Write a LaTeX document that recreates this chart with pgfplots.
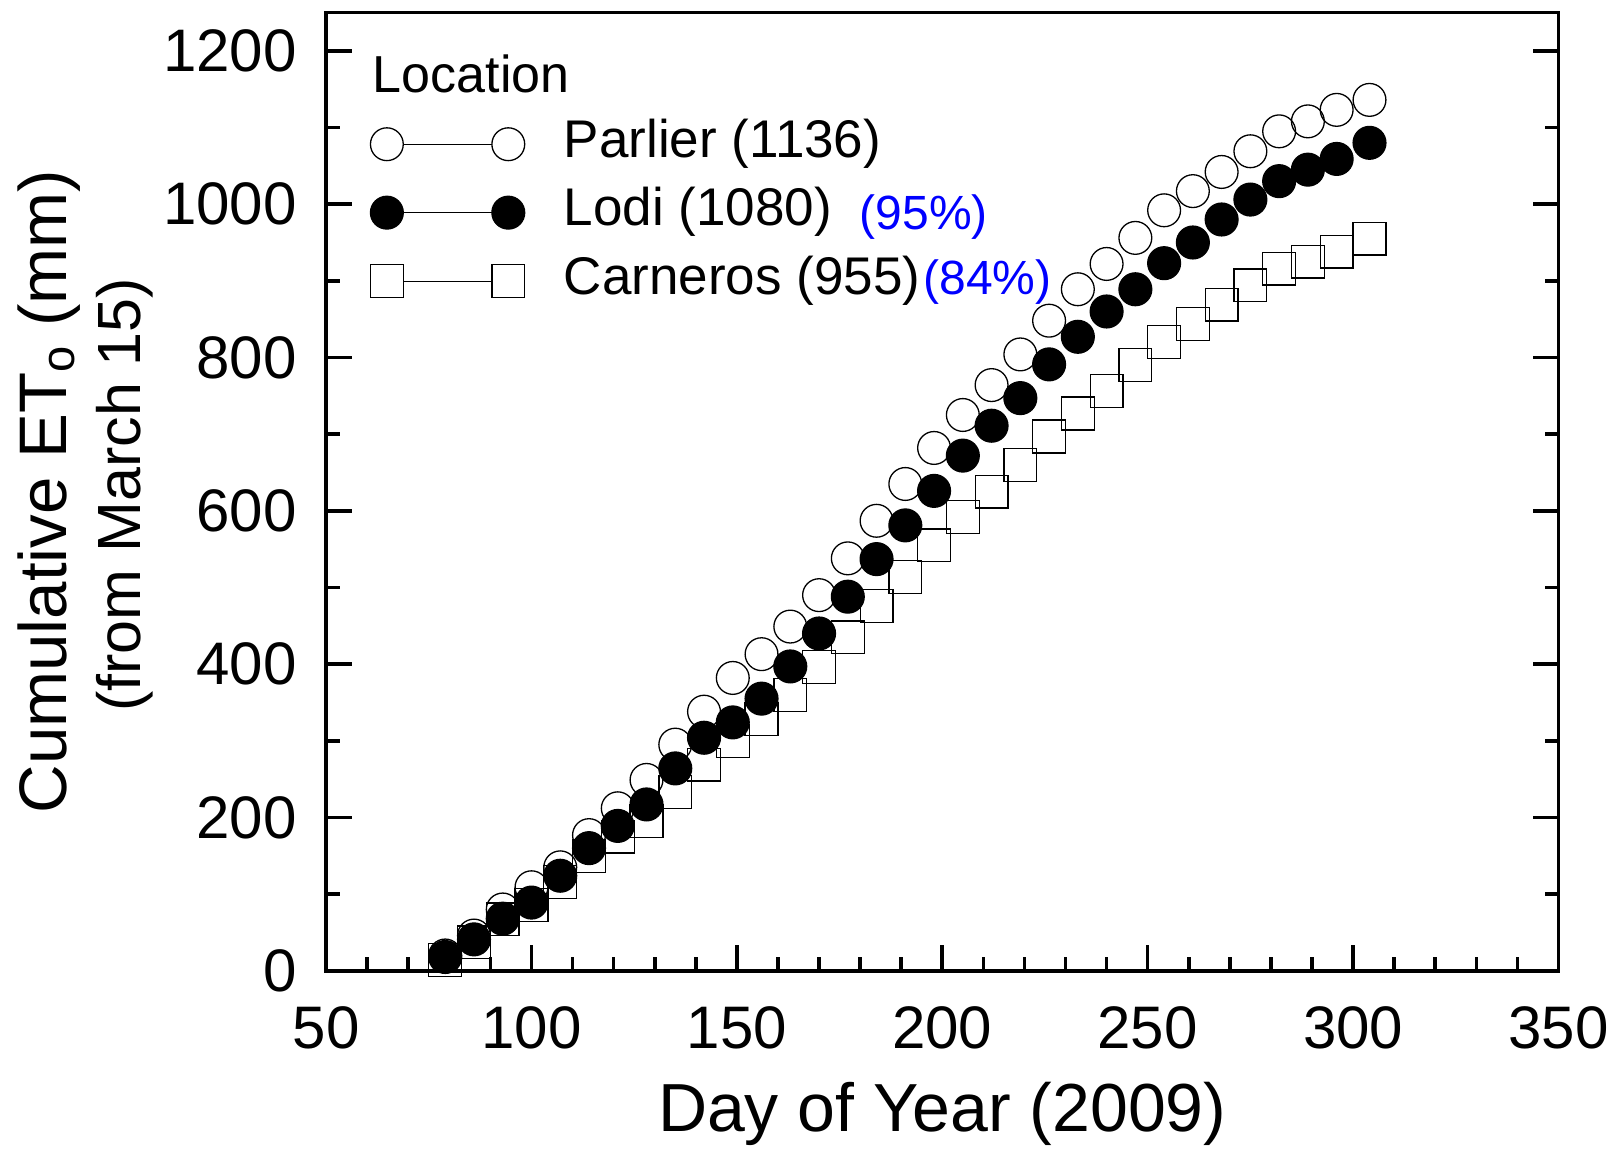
\documentclass[border=0pt]{standalone}
\usepackage{fontspec}
\setmainfont{Liberation Sans}
\usepackage{pgfplots}
\usepackage{pgfplotstable}
\pgfplotsset{compat=1.18}

% Cumulative reference ET (mm) since March 15, weekly, 2009
\pgfplotstableread{
day parlier lodi carneros
79    20    18    14
86    46    41    37
93    80    68    67
100   109   89    86
107   135   124   116
114   177   160   150
121   212   189   175
128   249   217   195
135   295   264   233
142   338   304   269
149   382   324   300
156   413   355   328
163   449   397   360
170   490   440   396
177   538   488   435
184   587   537   476
191   635   581   514
198   682   626   555
205   725   672   592
212   764   711   625
219   804   747   660
226   848   791   697
233   889   827   727
240   922   860   756
247   956   889   790
254   992   923   820
261   1017  950   844
268   1042  980   869
275   1069  1006  894
282   1095  1030  916
289   1108  1045  925
296   1123  1059  938
304   1136  1080  955
}\etdata

\begin{document}
\begin{tikzpicture}
\useasboundingbox (-163pt,-90.75pt) rectangle (643.25pt,485.25pt);
\begin{axis}[
  scale only axis, width=616pt, height=479pt,
  xmin=50, xmax=350, ymin=0, ymax=1250,
  xtick={50,100,...,350}, minor x tick num=4,
  ytick={0,200,...,1200}, minor y tick num=1,
  xtick pos=bottom, ytick pos=both, yticklabel pos=left,
  tick align=inside,
  major tick length=12.7pt, minor tick length=6.8pt,
  every tick/.style={black, line width=1.8pt},
  axis line style={line width=1.8pt},
  /pgf/number format/1000 sep={},
  /pgf/number format/assume math mode=true,
  tick label style={font=\fontsize{30}{36}\selectfont, inner sep=0pt},
  xticklabel style={anchor=north, yshift=-17.5pt},
  yticklabel style={anchor=east, xshift=-14.5pt},
  legend cell align=left,
  % symbol -- line -- symbol, the line stopping at the symbol edges
  legend image code/.code={
    \draw[black, line width=0.5pt] (8.2pt,0pt) -- (52.5pt,0pt);
    \draw[mark repeat=1] plot coordinates {(0pt,0pt) (60.7pt,0pt)};},
  legend style={at={(axis description cs:0.036,0.8877)}, anchor=north west,
    draw=none, fill=none, inner sep=0pt, outer sep=0pt,
    font=\fontsize{26.5}{31}\selectfont,
    nodes={inner sep=0pt, text height=18.6pt, text depth=5.5pt},
    row sep=10.1pt,
    /tikz/every odd column/.append style={column sep=19.6pt}},
  clip=false,
]
\addplot[black, only marks, mark=o, mark size=8.2pt,
  mark options={line width=0.65pt}]
  table[x=day, y=parlier]{\etdata};
\addlegendentry{Parlier (1136)}
\addplot[black, only marks, mark=*, mark size=8.2pt,
  mark options={fill=black, line width=0.65pt}]
  table[x=day, y=lodi]{\etdata};
\addlegendentry{Lodi (1080)}
\addplot[black, only marks, mark=square, mark size=8.2pt,
  mark options={line width=0.65pt}]
  table[x=day, y=carneros]{\etdata};
\addlegendentry{Carneros (955)}

\node[anchor=base west, inner sep=0pt, font=\fontsize{26}{31}\selectfont]
  at (axis description cs:0.0377,0.9165) {Location};
\node[anchor=base west, inner sep=0pt, text=blue, font=\fontsize{24}{29}\selectfont]
  at (axis description cs:0.4326,0.7735) {(95\%)};
\node[anchor=base west, inner sep=0pt, text=blue, font=\fontsize{24}{29}\selectfont]
  at (axis description cs:0.4844,0.7059) {(84\%)};

\node[anchor=base, inner sep=0pt, font=\fontsize{34}{40}\selectfont]
  at (axis description cs:0.5,-0.168) {Day of Year (2009)};
\node[anchor=base, rotate=90, inner sep=0pt, font=\fontsize{33.6}{40}\selectfont]
  at (axis description cs:-0.2110,0.5) {Cumulative ET\textsubscript{o} (mm)};
\node[anchor=base, rotate=90, inner sep=0pt, font=\fontsize{30.5}{36}\selectfont]
  at (axis description cs:-0.1510,0.4967) {(from March 15)};
\end{axis}
\end{tikzpicture}
\end{document}
